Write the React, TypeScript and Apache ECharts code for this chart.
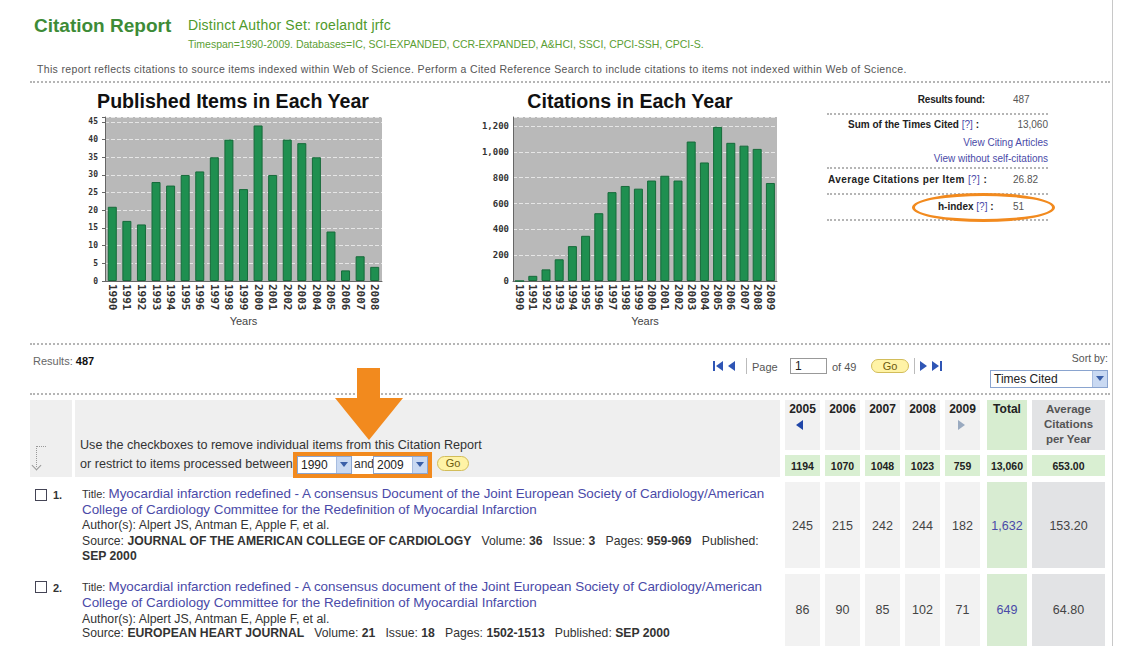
import React, { useEffect, useRef } from "react";
import * as echarts from "echarts";

const pubYears = ["1990","1991","1992","1993","1994","1995","1996","1997","1998","1999","2000","2001","2002","2003","2004","2005","2006","2007","2008"];
const pubCounts = [21,17,16,28,27,30,31,35,40,26,44,30,40,39,35,14,3,7,4];
const citeYears = ["1990","1991","1992","1993","1994","1995","1996","1997","1998","1999","2000","2001","2002","2003","2004","2005","2006","2007","2008","2009"];
const citeCounts = [0,40,90,168,270,350,525,688,736,715,778,815,778,1080,918,1194,1070,1048,1023,759];

const colYears = ["2005","2006","2007","2008","2009"];
const colSums = ["1194","1070","1048","1023","759"];
const sumTotal = "13,060";
const sumAvg = "653.00";
const row1Vals = ["245","215","242","244","182"];
const row1Total = "1,632";
const row1Avg = "153.20";
const row2Vals = ["86","90","85","102","71"];
const row2Total = "649";
const row2Avg = "64.80";

const FONT = '"Liberation Sans", Arial, Helvetica, sans-serif';
const MONO = '"DejaVu Sans Mono", monospace';
const GREEN = "#3d8b37";
const LINK = "#4a4aa8";
const ORANGE = "#f28a1e";

const colX = [785, 825, 865, 905, 945];
const colW = 35;
const totX = 987, totW = 40;
const avgX = 1032, avgW = 73;

function T(props: any) {
  const { x, y, s = 11, c = "#333", b = false, align = "left", children, ls } = props;
  const tx = align === "right" ? "-100%" : align === "center" ? "-50%" : "0";
  return (
    <div
      style={{
        position: "absolute",
        left: x,
        top: y,
        transform: `translate(${tx}, -50%)`,
        fontSize: s,
        lineHeight: 1.15,
        whiteSpace: "nowrap",
        color: c,
        fontWeight: b ? "bold" : "normal",
        fontFamily: FONT,
        letterSpacing: ls,
      }}
    >
      {children}
    </div>
  );
}

function Box(props: any) {
  const { x, y, w, h, bg, style } = props;
  return <div style={{ position: "absolute", left: x, top: y, width: w, height: h, background: bg, ...style }} />;
}

function Dash(props: any) {
  const { x, y, w } = props;
  return <div style={{ position: "absolute", left: x, top: y, width: w, height: 0, borderTop: "2px dotted #b5b5b5" }} />;
}

function Tri(props: any) {
  const { x, y, dir, size = 5, c = "#2f55b5" } = props;
  const st: any = { position: "absolute", left: x, top: y - size, width: 0, height: 0, borderTop: `${size}px solid transparent`, borderBottom: `${size}px solid transparent` };
  if (dir === "left") st.borderRight = `${size * 1.4}px solid ${c}`;
  else st.borderLeft = `${size * 1.4}px solid ${c}`;
  return <div style={st} />;
}

function Select(props: any) {
  const { x, y, w, h, text, bold } = props;
  return (
    <div style={{ position: "absolute", left: x, top: y, width: w, height: h, background: "#fff", border: "1px solid #8aa4cf", boxSizing: "border-box" }}>
      <div style={{ position: "absolute", left: 3, top: "50%", transform: "translateY(-50%)", fontSize: 12, fontFamily: FONT, color: "#222", fontWeight: bold ? "bold" : "normal", whiteSpace: "nowrap" }}>{text}</div>
      <div style={{ position: "absolute", right: 0, top: 0, width: 14, height: "100%", background: "#c9d9f2", borderLeft: "1px solid #a8bde0" }}>
        <div style={{ position: "absolute", left: 3, top: "50%", marginTop: -3, width: 0, height: 0, borderLeft: "4px solid transparent", borderRight: "4px solid transparent", borderTop: "5px solid #3a5fa8" }} />
      </div>
    </div>
  );
}

function GoBtn(props: any) {
  const { x, y, w = 32, h = 14 } = props;
  return (
    <div style={{ position: "absolute", left: x, top: y, width: w, height: h, background: "#fff3a6", border: "1px solid #d2bd5a", borderRadius: 8, boxSizing: "border-box", fontSize: 11, fontFamily: FONT, color: "#6b5a10", textAlign: "center", lineHeight: `${h - 2}px` }}>Go</div>
  );
}

function Checkbox(props: any) {
  const { x, y } = props;
  return <div style={{ position: "absolute", left: x, top: y, width: 12, height: 12, border: "1px solid #445", boxSizing: "border-box", background: "#fff" }} />;
}

function Charts() {
  const ref = useRef<HTMLDivElement>(null);
  useEffect(() => {
    if (!ref.current) return;
    const chart = echarts.init(ref.current, undefined, { renderer: "svg" });
    const xLab = { interval: 0, rotate: -90, fontSize: 11, margin: 3, fontFamily: MONO, fontWeight: "bold", color: "#333" };
    const yLab = { fontFamily: MONO, fontWeight: "bold", color: "#333" };
    const barStyle = { color: "#1f8f50", borderColor: "#166a3a", borderWidth: 1 };
    const split = { show: true, lineStyle: { color: "#e6e6e6", type: "dashed", width: 1 } };
    chart.setOption({
      animation: false,
      grid: [
        { left: 105, top: 117, width: 277, height: 164, show: true, backgroundColor: "#b9b9b9", borderWidth: 0 },
        { left: 513, top: 117, width: 264, height: 164, show: true, backgroundColor: "#b9b9b9", borderWidth: 0 },
      ],
      xAxis: [
        {
          type: "category", gridIndex: 0, data: pubYears,
          axisLine: { lineStyle: { color: "#666" } }, axisTick: { show: false },
          axisLabel: xLab,
          name: "Years", nameLocation: "middle", nameGap: 34,
          nameTextStyle: { fontSize: 11, color: "#444", fontFamily: FONT },
        },
        {
          type: "category", gridIndex: 1, data: citeYears,
          axisLine: { lineStyle: { color: "#666" } }, axisTick: { show: false },
          axisLabel: xLab,
          name: "Years", nameLocation: "middle", nameGap: 34,
          nameTextStyle: { fontSize: 11, color: "#444", fontFamily: FONT },
        },
      ],
      yAxis: [
        {
          type: "value", gridIndex: 0, min: 0, max: 46.4, interval: 5,
          axisLine: { show: true, lineStyle: { color: "#666" } },
          axisTick: { show: true, length: 3, lineStyle: { color: "#666" } },
          splitLine: split,
          axisLabel: { ...yLab, fontSize: 8, margin: 7, formatter: (v: number) => (v % 5 === 0 ? String(v) : "") },
        },
        {
          type: "value", gridIndex: 1, min: 0, max: 1270, interval: 200,
          axisLine: { show: true, lineStyle: { color: "#666" } },
          axisTick: { show: false },
          splitLine: split,
          axisLabel: { ...yLab, fontSize: 9, margin: 4, formatter: (v: number) => (v % 200 === 0 ? v.toLocaleString("en-US") : "") },
        },
      ],
      series: [
        { type: "bar", xAxisIndex: 0, yAxisIndex: 0, data: pubCounts, barWidth: 9, itemStyle: barStyle },
        { type: "bar", xAxisIndex: 1, yAxisIndex: 1, data: citeCounts, barWidth: 9, itemStyle: barStyle },
      ],
      graphic: [
        { type: "text", x: 233, y: 101, style: { text: "Published Items in Each Year", align: "center", verticalAlign: "middle", font: `bold 19.6px ${FONT}`, fill: "#111" } },
        { type: "text", x: 630, y: 101, style: { text: "Citations in Each Year", align: "center", verticalAlign: "middle", font: `bold 19.6px ${FONT}`, fill: "#111" } },
      ],
    });
    return () => chart.dispose();
  }, []);
  return <div ref={ref} style={{ position: "absolute", left: 0, top: 0, width: 1122, height: 340 }} />;
}

export default function App() {
  return (
    <div style={{ position: "absolute", left: 0, top: 0, width: 1122, height: 646, background: "#fff", overflow: "hidden", fontFamily: FONT }}>
      <Charts />
      {/* frame */}
      <Box x={1112} y={0} w={1} h={646} bg="#c8c8c8" />

      {/* header */}
      <T x={34} y={26} s={19} c={GREEN} b>Citation Report</T>
      <T x={188} y={25} s={14} c="#4f9a2c" ls={0.2}>Distinct Author Set: roelandt jrfc</T>
      <T x={188} y={44} s={10.5} c="#5b9e34">Timespan=1990-2009. Databases=IC, SCI-EXPANDED, CCR-EXPANDED, A&amp;HCI, SSCI, CPCI-SSH, CPCI-S.</T>
      <T x={37} y={69} s={10.5} c="#555" ls={0.34}>This report reflects citations to source items indexed within Web of Science. Perform a Cited Reference Search to include citations to items not indexed within Web of Science.</T>
      <Dash x={30} y={81} w={1080} />

      {/* right info panel */}
      <T x={985} y={100} s={10} c="#222" b align="right" ls={-0.2}>Results found:</T>
      <T x={1013} y={100} s={10} c="#555">487</T>
      <Dash x={827} y={113} w={221} />
      <T x={848} y={125} s={10} c="#222" b>Sum of the Times Cited <span style={{ color: LINK, fontWeight: "normal" }}>[?]</span> :</T>
      <T x={1048} y={125} s={10} c="#555" align="right">13,060</T>
      <T x={1048} y={143} s={10} c={LINK} align="right">View Citing Articles</T>
      <T x={1048} y={159} s={10} c={LINK} align="right">View without self-citations</T>
      <Dash x={827} y={167} w={221} />
      <T x={828} y={180} s={10} c="#222" b ls={0.4}>Average Citations per Item <span style={{ color: LINK, fontWeight: "normal" }}>[?]</span> :</T>
      <T x={1013} y={180} s={10} c="#555">26.82</T>
      <Dash x={827} y={193} w={221} />
      <T x={938} y={207} s={10} c="#222" b>h-index <span style={{ color: LINK, fontWeight: "normal" }}>[?]</span> :</T>
      <T x={1013} y={207} s={10} c="#555">51</T>
      <Dash x={827} y={219} w={221} />
      <div style={{ position: "absolute", left: 912, top: 193, width: 143, height: 29, border: `3px solid ${ORANGE}`, borderRadius: "50%", boxSizing: "border-box" }} />

      {/* results / pagination */}
      <Dash x={30} y={343} w={1080} />
      <T x={33} y={361} s={11} c="#666">Results: <span style={{ color: "#111", fontWeight: "bold" }}>487</span></T>

      <Box x={713} y={361} w={2} h={10} bg="#2f55b5" />
      <Tri x={716} y={366} dir="left" />
      <Tri x={728} y={366} dir="left" />
      <Box x={746} y={358} w={1} h={16} bg="#bbb" />
      <T x={752} y={367} s={11} c="#555">Page</T>
      <div style={{ position: "absolute", left: 790, top: 358, width: 37, height: 16, border: "1px solid #999", boxSizing: "border-box", background: "#fff", fontSize: 12, lineHeight: "14px", paddingLeft: 4, fontFamily: FONT, color: "#222" }}>1</div>
      <T x={832} y={367} s={11} c="#555">of 49</T>
      <GoBtn x={871} y={359} w={38} h={14} />
      <Box x={914} y={358} w={1} h={16} bg="#bbb" />
      <Tri x={920} y={366} dir="right" />
      <Tri x={932} y={366} dir="right" />
      <Box x={940} y={361} w={2} h={10} bg="#2f55b5" />
      <T x={1108} y={358} s={10.5} c="#555" align="right">Sort by:</T>
      <Select x={990} y={370} w={118} h={18} text="Times Cited" />
      <Dash x={30} y={393} w={1080} />

      {/* table header */}
      <Box x={30} y={400} w={42} h={77} bg="#efefef" />
      <Box x={75} y={400} w={705} h={77} bg="#efefef" />
      <div style={{ position: "absolute", left: 36, top: 446, width: 9, height: 20, borderTop: "1px dotted #999", borderLeft: "1px dotted #999" }} />
      <div style={{ position: "absolute", left: 33, top: 462, width: 6, height: 6, borderRight: "1px solid #999", borderBottom: "1px solid #999", transform: "rotate(45deg)" }} />
      <T x={80} y={445} s={12.6} c="#333">Use the checkboxes to remove individual items from this Citation Report</T>
      <T x={80} y={464} s={12.6} c="#333">or restrict to items processed between</T>
      <div style={{ position: "absolute", left: 293, top: 452, width: 139, height: 26, background: "#fff", border: `4px solid ${ORANGE}`, boxSizing: "border-box" }} />
      <Select x={297} y={456} w={55} h={18} text="1990" />
      <T x={354} y={465} s={12} c="#333">and</T>
      <Select x={373} y={456} w={55} h={18} text="2009" />
      <GoBtn x={437} y={456} w={32} h={15} />

      {/* orange arrow */}
      <Box x={357} y={368} w={23} h={32} bg={ORANGE} />
      <div style={{ position: "absolute", left: 335, top: 398, width: 0, height: 0, borderLeft: "34px solid transparent", borderRight: "34px solid transparent", borderTop: `42px solid ${ORANGE}` }} />

      {/* year columns header */}
      {colYears.map((yr, i) => (
        <React.Fragment key={yr}>
          <Box x={colX[i]} y={400} w={colW} h={50} bg="#f1f1f1" />
          <T x={colX[i] + colW / 2} y={410} s={12} c="#222" b align="center">{yr}</T>
          <Box x={colX[i]} y={455} w={colW} h={21} bg="#d9efd2" />
          <T x={colX[i] + colW / 2} y={466} s={10.5} c="#222" b align="center">{colSums[i]}</T>
          <Box x={colX[i]} y={482} w={colW} h={86} bg="#f2f2f2" />
          <T x={colX[i] + colW / 2} y={526} s={12.5} c="#444" align="center">{row1Vals[i]}</T>
          <Box x={colX[i]} y={574} w={colW} h={72} bg="#f2f2f2" />
          <T x={colX[i] + colW / 2} y={610} s={12.5} c="#444" align="center">{row2Vals[i]}</T>
        </React.Fragment>
      ))}
      <Tri x={colX[0] + 11} y={425} dir="left" size={5} c="#2046a8" />
      <Tri x={colX[4] + 13} y={425} dir="right" size={5} c="#9aaac0" />
      <Box x={totX} y={400} w={totW} h={50} bg="#d7edd0" />
      <T x={totX + totW / 2} y={410} s={12} c="#222" b align="center">Total</T>
      <Box x={totX} y={455} w={totW} h={21} bg="#d9efd2" />
      <T x={totX + totW / 2} y={466} s={10.5} c="#222" b align="center">{sumTotal}</T>
      <Box x={totX} y={482} w={totW} h={86} bg="#d8ecd2" />
      <T x={totX + totW / 2} y={526} s={12.5} c={LINK} align="center">{row1Total}</T>
      <Box x={totX} y={574} w={totW} h={72} bg="#d8ecd2" />
      <T x={totX + totW / 2} y={610} s={12.5} c={LINK} align="center">{row2Total}</T>
      <Box x={avgX} y={400} w={avgW} h={50} bg="#e2e3e5" />
      <T x={avgX + avgW / 2} y={410} s={11.5} c="#555" b align="center">Average</T>
      <T x={avgX + avgW / 2} y={425} s={11.5} c="#555" b align="center">Citations</T>
      <T x={avgX + avgW / 2} y={440} s={11.5} c="#555" b align="center">per Year</T>
      <Box x={avgX} y={455} w={avgW} h={21} bg="#d9efd2" />
      <T x={avgX + avgW / 2} y={466} s={10.5} c="#222" b align="center">{sumAvg}</T>
      <Box x={avgX} y={482} w={avgW} h={86} bg="#e2e3e5" />
      <T x={avgX + avgW / 2} y={526} s={12.5} c="#444" align="center">{row1Avg}</T>
      <Box x={avgX} y={574} w={avgW} h={72} bg="#e2e3e5" />
      <T x={avgX + avgW / 2} y={610} s={12.5} c="#444" align="center">{row2Avg}</T>

      {/* row 1 */}
      <Checkbox x={35} y={489} />
      <T x={53} y={495} s={11} c="#333" b>1.</T>
      <T x={82} y={494} s={13.4} c="#333"><span style={{ fontSize: 11 }}>Title: </span><span style={{ color: LINK }}>Myocardial infarction redefined - A consensus Document of the Joint European Society of Cardiology/American</span></T>
      <T x={82} y={510} s={13.4} c={LINK}>College of Cardiology Committee for the Redefinition of Myocardial Infarction</T>
      <T x={82} y={525} s={12.3} c="#333">Author(s): Alpert JS, Antman E, Apple F, et al.</T>
      <T x={82} y={541} s={12.2} c="#333">Source: <b>JOURNAL OF THE AMERICAN COLLEGE OF CARDIOLOGY</b>&nbsp;&nbsp; Volume: <b>36</b>&nbsp;&nbsp; Issue: <b>3</b>&nbsp;&nbsp; Pages: <b>959-969</b>&nbsp;&nbsp; Published:</T>
      <T x={82} y={556} s={12.2} c="#333" b>SEP 2000</T>

      {/* row 2 */}
      <Checkbox x={35} y={581} />
      <T x={53} y={588} s={11} c="#333" b>2.</T>
      <T x={82} y={587} s={13.4} c="#333"><span style={{ fontSize: 11 }}>Title: </span><span style={{ color: LINK }}>Myocardial infarction redefined - A consensus document of the Joint European Society of Cardiology/American</span></T>
      <T x={82} y={603} s={13.4} c={LINK}>College of Cardiology Committee for the Redefinition of Myocardial Infarction</T>
      <T x={82} y={619} s={12.3} c="#333">Author(s): Alpert JS, Antman E, Apple F, et al.</T>
      <T x={82} y={633} s={12.2} c="#333">Source: <b>EUROPEAN HEART JOURNAL</b>&nbsp;&nbsp; Volume: <b>21</b>&nbsp;&nbsp; Issue: <b>18</b>&nbsp;&nbsp; Pages: <b>1502-1513</b>&nbsp;&nbsp; Published: <b>SEP 2000</b></T>
    </div>
  );
}
